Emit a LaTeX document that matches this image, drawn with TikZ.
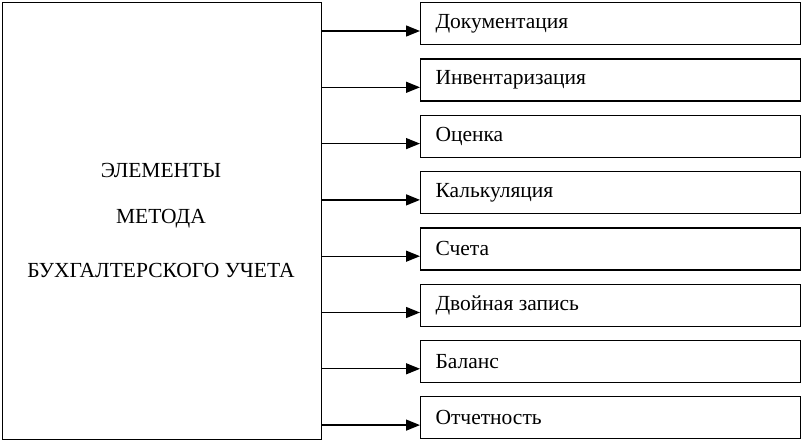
\documentclass[tikz,border=0pt]{standalone}
\usepackage{fontspec}
\setmainfont{Liberation Serif}
\usetikzlibrary{arrows.meta}
\begin{document}
\begin{tikzpicture}[x=1pt,y=-1pt,
  item/.style={draw,line width=1.3pt,minimum width=380pt,minimum height=42pt,anchor=north west,inner sep=0pt},
  lbl/.style={font=\fontsize{21.5}{24}\selectfont},
  arr/.style={line width=1.3pt,-{Triangle[length=14pt,width=11pt]}}]
\useasboundingbox (0,0) rectangle (801,441);
\node[draw,line width=1.3pt,minimum width=319pt,minimum height=437pt,anchor=north west,inner sep=0pt] (main) at (2,2) {};
\node[lbl] (t1) at (161,170) {ЭЛЕМЕНТЫ};
\node[lbl] (t2) at (161,219) {МЕТОДА};
\node[lbl] (t3) at (161,270) {БУХГАЛТЕРСКОГО УЧЕТА};
\foreach \i/\t in {0/Документация,1/Инвентаризация,2/Оценка,3/Калькуляция,4/Счета,5/Двойная запись,6/Баланс,7/Отчетность}{
  \node[item] (b\i) at (420,{2+56.3*\i}) {};
  \node[lbl,anchor=west] (l\i) at ([xshift=12pt]b\i.west) {\t};
  \coordinate (s\i) at (321,{31+56.3*\i});
  \draw[arr] (s\i) -- (s\i -| b\i.west);
}
\end{tikzpicture}
\end{document}
